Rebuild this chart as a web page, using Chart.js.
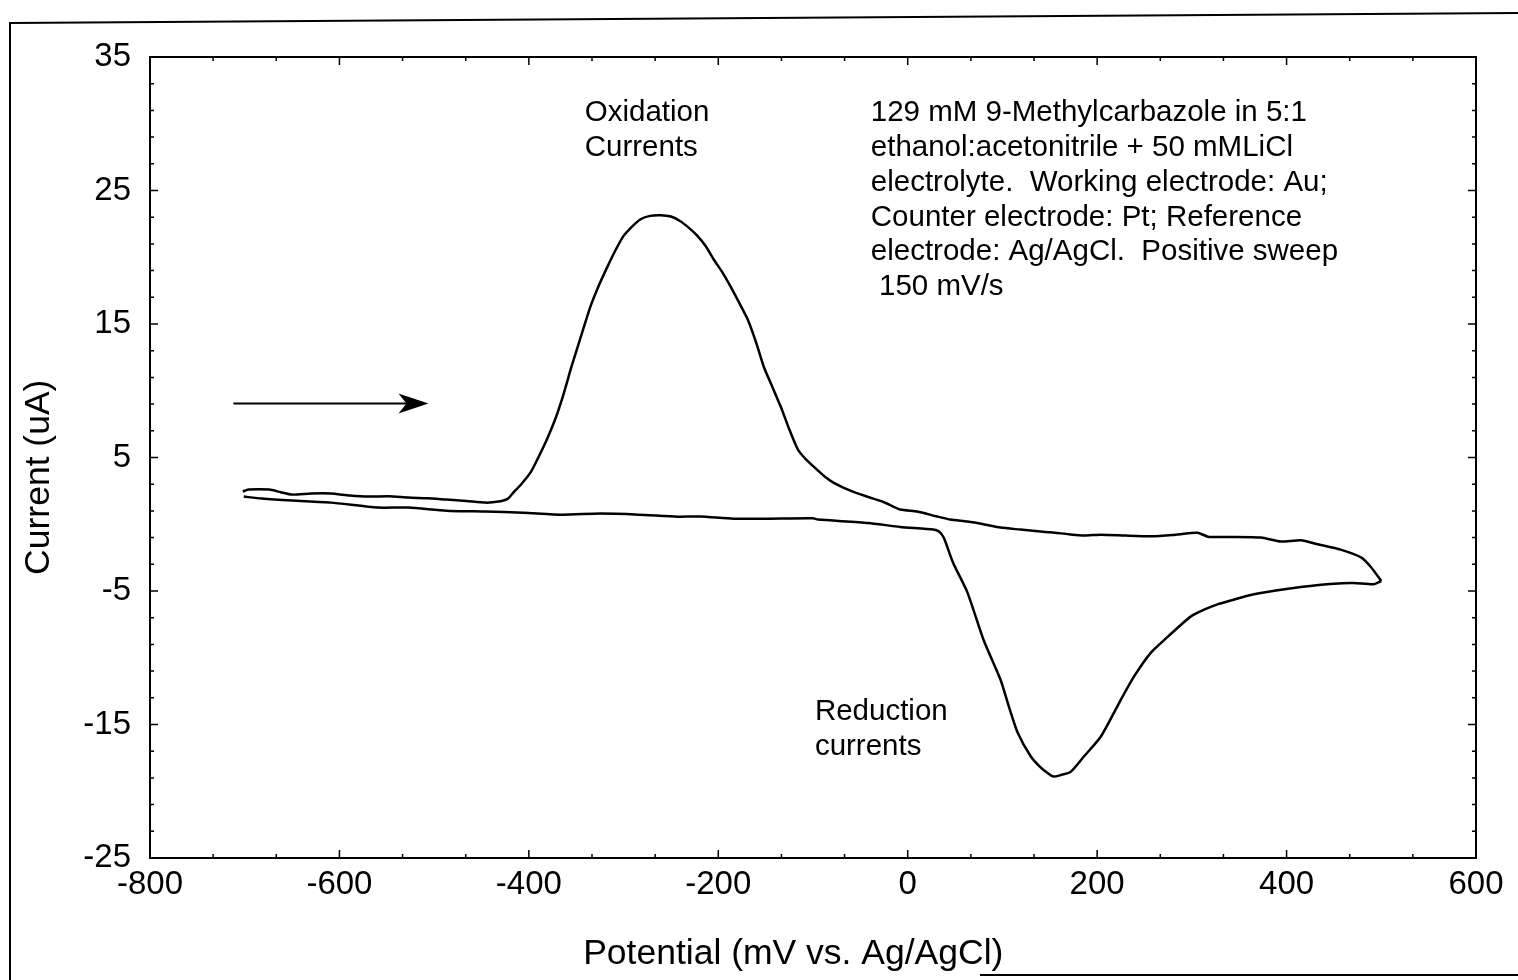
<!DOCTYPE html>
<html>
<head>
<meta charset="utf-8">
<script src="https://cdn.jsdelivr.net/npm/chart.js@4.4.0/dist/chart.umd.min.js"></script>
<style>
  html, body { margin: 0; padding: 0; background: #fff; }
</style>
</head>
<body>
<canvas id="cv" width="1518" height="980"></canvas>
<script>
// forward (positive) sweep, -700 -> +500 mV
const fwdPotential = [-702, -696, -674, -662, -650, -630, -609, -589, -569, -548, -527, -507, -487, -466, -446, -432, -422,
  -416, -408, -398, -390, -381, -372, -364, -355, -346, -335, -326, -317, -308, -300, -291, -282, -272, -261, -250,
  -240, -231, -222, -213, -205, -196, -187, -178, -169, -160, -152, -143, -134, -125, -116, -108, -99, -88, -78,
  -60, -42, -25, -8, 10, 30, 45, 63, 80, 98, 119, 140, 151, 170, 186, 204, 230, 257, 280, 306, 317, 340, 373,
  394, 415, 433, 457, 479, 489, 500];
const fwdCurrent = [2.45, 2.6, 2.6, 2.4, 2.22, 2.3, 2.3, 2.15, 2.07, 2.1, 2.0, 1.95, 1.85, 1.75, 1.62, 1.7, 1.92,
  2.4, 3.0, 3.9, 5.0, 6.35, 7.9, 9.6, 11.8, 13.85, 16.3, 17.9, 19.3, 20.6, 21.6, 22.3, 22.85, 23.1, 23.15, 23.05,
  22.7, 22.2, 21.6, 20.8, 19.85, 18.9, 17.8, 16.6, 15.35, 13.6, 11.8, 10.3, 8.8, 7.1, 5.6, 4.9, 4.3, 3.6, 3.1,
  2.5, 2.05, 1.65, 1.1, 0.95, 0.6, 0.35, 0.2, 0.0, -0.25, -0.4, -0.55, -0.6, -0.75, -0.85, -0.78, -0.85, -0.9,
  -0.8, -0.63, -0.93, -0.95, -1.0, -1.3, -1.2, -1.5, -1.9, -2.5, -3.2, -4.25];

// reverse sweep, +500 -> -700 mV
const revPotential = [500, 492, 471, 450, 415, 387, 362, 344, 327, 313, 299, 285, 275, 257, 239, 225, 204, 186,
  172, 161, 154, 147, 140, 130, 116, 107, 98, 80, 63, 48, 38, 33, 27, -8, -42, -95, -100, -148, -184, -219,
  -243, -284, -325, -365, -406, -446, -487, -527, -560, -609, -650, -682, -701];
const revCurrent = [-4.25, -4.5, -4.4, -4.45, -4.7, -4.98, -5.3, -5.65, -6.0, -6.4, -6.9, -7.75, -8.4, -9.6,
  -11.4, -13.15, -15.9, -17.4, -18.55, -18.8, -18.9, -18.6, -18.2, -17.4, -15.6, -13.7, -11.65, -8.65, -5.1,
  -2.9, -1.0, -0.55, -0.4, -0.2, 0.1, 0.35, 0.45, 0.42, 0.42, 0.58, 0.57, 0.72, 0.8, 0.72, 0.87, 0.95, 1.02,
  1.25, 1.25, 1.62, 1.77, 1.92, 2.07];

const xMin = -800, xMax = 600, xStep = 200;
const yMin = -25, yMax = 35, yStep = 10;

const fontFam = "'Liberation Sans', Arial, sans-serif";
const pad = "\u00a0\u00a0\u00a0\u00a0";   // nudges centred axis titles like the original

function pts(xs, ys) {
  return xs.map((v, i) => ({ x: v, y: ys[i] }));
}

// notes placed in data coordinates
const notes = [
  { x: -341, y: 30.8, lines: ["Oxidation", "Currents"] },
  { x: -39, y: 30.8, lines: [
    "129 mM 9-Methylcarbazole in 5:1",
    "ethanol:acetonitrile + 50 mMLiCl",
    "electrolyte.  Working electrode: Au;",
    "Counter electrode: Pt; Reference",
    "electrode: Ag/AgCl.  Positive sweep",
    " 150 mV/s"] },
  { x: -98, y: -14.05, lines: ["Reduction", "currents"] }
];
const sweepArrow = { x0: -712, x1: -506, y: 9.05 };

const decor = {
  id: "decor",
  afterDraw(chart) {
    const { ctx, chartArea: a, scales: { x, y } } = chart;
    ctx.save();
    ctx.strokeStyle = "#000";
    ctx.fillStyle = "#000";

    // outer page frame
    ctx.lineWidth = 2;
    ctx.beginPath();
    ctx.moveTo(10, 980); ctx.lineTo(10, 23); ctx.lineTo(1518, 13);
    ctx.moveTo(980, 975); ctx.lineTo(1518, 975);
    ctx.stroke();

    // plot box
    ctx.strokeRect(a.left, a.top, a.right - a.left, a.bottom - a.top);

    // inward ticks on all four sides
    ctx.lineWidth = 1.5;
    ctx.beginPath();
    for (let k = 0; k <= 21; k++) {
      const v = xMin + k * xStep / 3;
      const px = x.getPixelForValue(v);
      const len = (k % 3 === 0) ? 8 : 4;
      ctx.moveTo(px, a.bottom); ctx.lineTo(px, a.bottom - len);
      ctx.moveTo(px, a.top); ctx.lineTo(px, a.top + len);
    }
    for (let k = 0; k <= 30; k++) {
      const v = yMin + k * 2;
      const py = y.getPixelForValue(v);
      const len = (k % 5 === 0) ? 8 : 4;
      ctx.moveTo(a.left, py); ctx.lineTo(a.left + len, py);
      ctx.moveTo(a.right, py); ctx.lineTo(a.right - len, py);
    }
    ctx.stroke();

    // sweep direction arrow
    const ax0 = x.getPixelForValue(sweepArrow.x0);
    const ax1 = x.getPixelForValue(sweepArrow.x1);
    const ay = y.getPixelForValue(sweepArrow.y);
    ctx.lineWidth = 2;
    ctx.beginPath();
    ctx.moveTo(ax0, ay); ctx.lineTo(ax1 - 20, ay);
    ctx.stroke();
    ctx.beginPath();
    ctx.moveTo(ax1, ay);
    ctx.lineTo(ax1 - 30, ay - 10);
    ctx.lineTo(ax1 - 22, ay);
    ctx.lineTo(ax1 - 30, ay + 10);
    ctx.closePath();
    ctx.fill();

    // text notes
    ctx.font = "29.5px " + fontFam;
    ctx.textBaseline = "middle";
    ctx.textAlign = "left";
    notes.forEach(n => {
      const px = x.getPixelForValue(n.x);
      const py = y.getPixelForValue(n.y);
      n.lines.forEach((t, i) => ctx.fillText(t, px, py + i * 34.8));
    });
    ctx.restore();
  }
};

new Chart(document.getElementById("cv"), {
  type: "scatter",
  data: {
    datasets: [
      { data: pts(fwdPotential, fwdCurrent), showLine: true, borderColor: "#000", borderWidth: 2.5,
        pointRadius: 0, tension: 0.2, fill: false },
      { data: pts(revPotential, revCurrent), showLine: true, borderColor: "#000", borderWidth: 2.5,
        pointRadius: 0, tension: 0.2, fill: false }
    ]
  },
  options: {
    responsive: false,
    animation: false,
    layout: { padding: { left: 0, right: 42, top: 57, bottom: 0 } },
    plugins: { legend: { display: false }, tooltip: { enabled: false } },
    scales: {
      x: {
        type: "linear", min: xMin, max: xMax,
        ticks: { stepSize: xStep, color: "#000", font: { family: fontFam, size: 33 }, padding: 7, maxRotation: 0 },
        grid: { display: false, drawTicks: false },
        border: { display: false },
        title: { display: true, text: "Potential (mV vs. Ag/AgCl)" + pad, color: "#000",
                 font: { family: fontFam, size: 35.5 }, padding: { top: 0, bottom: 4 } },
        afterFit(s) { s.height = 122; }
      },
      y: {
        type: "linear", min: yMin, max: yMax,
        ticks: { stepSize: yStep, color: "#000", font: { family: fontFam, size: 33 }, padding: 19 },
        grid: { display: false, drawTicks: false },
        border: { display: false },
        title: { display: true, text: "Current (uA)" + pad, color: "#000",
                 font: { family: fontFam, size: 35.5 }, padding: { top: 18, bottom: 0 } },
        afterFit(s) { s.width = 150; }
      }
    }
  },
  plugins: [decor]
});
</script>
</body>
</html>
